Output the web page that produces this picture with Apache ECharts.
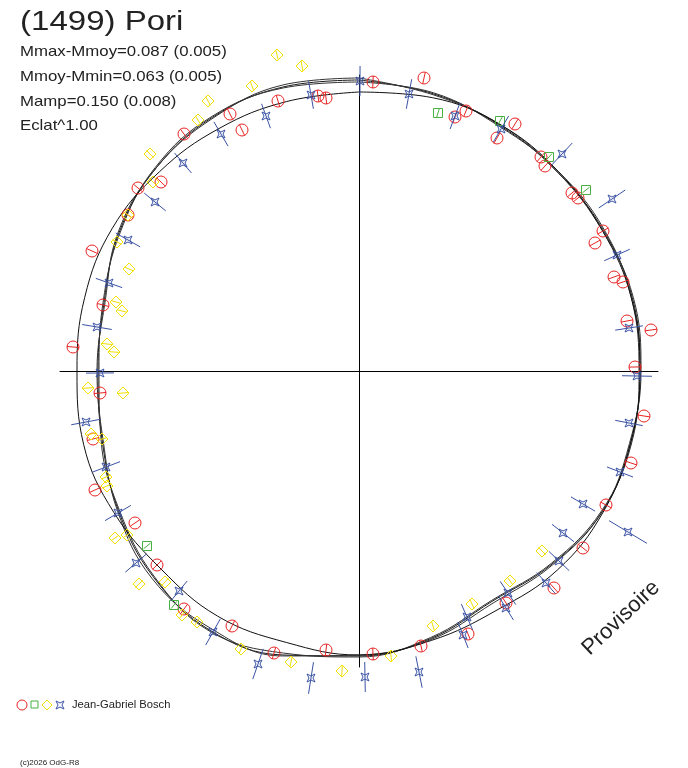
<!DOCTYPE html>
<html>
<head>
<meta charset="utf-8">
<script src="https://cdn.jsdelivr.net/npm/echarts@6/dist/echarts.min.js"></script>
<style>
  html, body { margin: 0; padding: 0; background: #fff; }
  #chart { width: 688px; height: 768px; }
</style>
</head>
<body>
<div id="chart"></div>
<script>
// polar light-curve plot, values in plot units (centre = 0,0)
const angles = [0, 15, 30, 45, 60, 75, 90, 105, 120, 135, 150, 165,
                180, 195, 210, 225, 240, 255, 270, 285, 300, 315, 330, 345];

// fitted curves: radius at each angle (clockwise from top)
const fitA = [291, 287, 283, 281, 282, 283, 281, 281, 281, 273, 266, 277,
              285, 294, 299, 291, 278, 266, 261, 264, 277, 287, 293, 294];
const fitB = [293, 286, 284, 281, 281, 284, 282, 280, 281, 274, 268, 278,
              284, 295, 297, 293, 279, 265, 262, 263, 278, 287, 292, 296];
const fitC = [289, 288, 282, 282, 283, 282, 280, 282, 280, 272, 265, 276,
              286, 292, 300, 290, 277, 267, 260, 265, 276, 288, 294, 293];
const fitAlt = [279, 283, 284, 282, 281, 282, 281, 281, 282, 281, 276, 279,
                284, 281, 283, 280, 283, 285, 282, 284, 285, 282, 280, 279];

// observations [x, y]
const redPts = [
  [14, 289], [65, 293], [107, 260], [96, 254], [156, 247], [138, 233], [182, 214],
  [186, 205], [213, 178], [219, 173], [244, 140], [236, 128], [255, 94], [264, 89],
  [268, 50], [292, 41], [276, 4], [285, -45], [272, -92], [247, -134], [224, -177],
  [195, -217], [147, -232], [109, -263], [62, -275], [14, -283], [-33, -279],
  [-85, -282], [-127, -255], [-175, -238], [-202, -194], [-224, -152], [-264, -119],
  [-266, -68], [-259, -22], [-286, 24], [-256, 66], [-267, 120], [-231, 156],
  [-221, 183], [-198, 189], [-175, 237], [-129, 257], [-117, 241], [-81, 270],
  [-41, 275], [-33, 273]
];
const yellowPts = [
  [-82, 316], [-57, 305], [-107, 285], [-151, 270], [-161, 251], [-209, 217],
  [-206, 189], [-231, 156], [-242, 129], [-230, 102], [-243, 69], [-237, 60],
  [-252, 27], [-245, 19], [-271, -17], [-236, -22], [-268, -63], [-257, -68],
  [-253, -106], [-252, -115], [-244, -167], [-232, -164], [-220, -213], [-194, -211],
  [-177, -244], [-162, -251], [-118, -278], [-68, -291], [-17, -300], [32, -285],
  [74, -255], [113, -233], [151, -210], [183, -180]
];
const greenPts = [
  [79, 258], [141, 250], [190, 214], [227, 181], [-212, -175], [-185, -234]
];
// [x, y, error]
const bluePts = [
  [1, 290, 15], [50, 277, 15], [96, 255, 14], [142, 242, 15], [203, 217, 15],
  [253, 172, 16], [258, 116, 14], [270, 43, 14], [278, -5, 15], [270, -52, 14],
  [261, -101, 14], [224, -133, 14], [269, -161, 22], [204, -162, 14], [200, -190, 14],
  [187, -212, 14], [149, -222, 14], [147, -237, 14], [108, -246, 14], [104, -264, 14],
  [60, -301, 16], [6, -306, 15], [-48, -307, 16], [-101, -293, 16], [-146, -261, 15],
  [-180, -220, 13], [-223, -192, 14], [-241, -142, 15], [-253, -96, 15], [-273, -51, 15],
  [-259, -2, 14], [-262, 44, 15], [-250, 88, 14], [-231, 131, 14], [-204, 169, 14],
  [-176, 208, 13], [-138, 237, 14], [-93, 255, 13], [-48, 276, 14]
];

const statLines = [
  'Mmax-Mmoy=0.087 (0.005)',
  'Mmoy-Mmin=0.063 (0.005)',
  'Mamp=0.150 (0.008)',
  'Eclat^1.00'
];

const RED = '#e82424', YEL = '#f2e000', GRN = '#48b040', BLU = '#3a52a4', INK = '#222';

function curvePoints(radii) {
  const pts = radii.map((r, i) => {
    const a = angles[i] * Math.PI / 180;
    return [r * Math.sin(a), r * Math.cos(a)];
  });
  pts.push(pts[0]);
  return pts;
}

function curveSeries(radii, color) {
  return {
    type: 'line', data: curvePoints(radii), smooth: 0.4, symbol: 'none',
    silent: true, z: 2, lineStyle: { color: color, width: 1 }
  };
}

function tick(p, ux, uy, len, color) {
  return {
    type: 'line',
    shape: { x1: p[0] - ux * len, y1: p[1] - uy * len, x2: p[0] + ux * len, y2: p[1] + uy * len },
    style: { stroke: color, lineWidth: 1 }
  };
}

// four-pointed star, tips on the diagonals
function starPoints(cx, cy, s) {
  const k = s * 0.5;
  return [[cx - s, cy - s], [cx, cy - k], [cx + s, cy - s], [cx + k, cy],
          [cx + s, cy + s], [cx, cy + k], [cx - s, cy + s], [cx - k, cy]];
}

function markerSeries(data, draw) {
  return {
    type: 'custom', coordinateSystem: 'cartesian2d', data: data, silent: true, z: 3,
    renderItem(params, api) {
      const x = api.value(0), y = api.value(1);
      const p = api.coord([x, y]), c = api.coord([0, 0]);
      const dx = p[0] - c[0], dy = p[1] - c[1];
      const L = Math.hypot(dx, dy) || 1;
      return { type: 'group', children: draw(p, dx / L, dy / L, api, x, y) };
    }
  };
}

const chart = echarts.init(document.getElementById('chart'), null, { renderer: 'canvas' });

const graphics = [
  { type: 'text', x: 20, y: 22, scaleX: 1.18,
    style: { text: '(1499) Pori', font: '28px "Liberation Sans", Arial, sans-serif', fill: INK,
             align: 'left', verticalAlign: 'middle', textAlign: 'left', textVerticalAlign: 'middle' } },
  { type: 'text', x: 621, y: 618, rotation: 0.76,
    style: { text: 'Provisoire', font: '22px "Liberation Sans", Arial, sans-serif', fill: INK,
             align: 'center', verticalAlign: 'middle', textAlign: 'center', textVerticalAlign: 'middle' } },
  { type: 'circle', shape: { cx: 22, cy: 705, r: 5 }, style: { fill: 'none', stroke: RED, lineWidth: 1 } },
  { type: 'rect', shape: { x: 31, y: 701, width: 7, height: 7 }, style: { fill: 'none', stroke: GRN, lineWidth: 1 } },
  { type: 'polygon', shape: { points: [[47, 700], [52, 705], [47, 710], [42, 705]] },
    style: { fill: 'none', stroke: YEL, lineWidth: 1 } },
  { type: 'polygon', shape: { points: starPoints(60, 705, 4) }, style: { fill: 'none', stroke: BLU, lineWidth: 1 } },
  { type: 'text', x: 72, y: 705, scaleX: 1.12,
    style: { text: 'Jean-Gabriel Bosch', font: '10px "Liberation Sans", Arial, sans-serif', fill: INK,
             align: 'left', verticalAlign: 'middle', textAlign: 'left', textVerticalAlign: 'middle' } },
  { type: 'text', x: 20, y: 763,
    style: { text: '(c)2026 OdG-R8', font: '8px "Liberation Sans", Arial, sans-serif', fill: INK,
             align: 'left', verticalAlign: 'middle', textAlign: 'left', textVerticalAlign: 'middle' } }
];
statLines.forEach((t, i) => {
  graphics.push({
    type: 'text', x: 20, y: 52 + i * 24.7, scaleX: 1.12,
    style: { text: t, font: '15px "Liberation Sans", Arial, sans-serif', fill: INK,
             align: 'left', verticalAlign: 'middle', textAlign: 'left', textVerticalAlign: 'middle' }
  });
});

const hiddenAxis = {
  type: 'value',
  axisLine: { show: true, onZero: true, lineStyle: { color: '#000', width: 1 } },
  axisTick: { show: false }, axisLabel: { show: false }, splitLine: { show: false }
};

const option = {
  animation: false,
  backgroundColor: '#fff',
  grid: { left: 60, top: 75, width: 598, height: 592 },
  xAxis: Object.assign({ min: -299, max: 299 }, hiddenAxis),
  yAxis: Object.assign({ min: -296, max: 296 }, hiddenAxis),
  graphic: graphics,
  series: [
    curveSeries(fitA, '#1a1a1a'),
    curveSeries(fitB, '#333'),
    curveSeries(fitC, '#333'),
    curveSeries(fitAlt, '#111'),
    markerSeries(redPts, (p, ux, uy) => [
      { type: 'circle', shape: { cx: p[0], cy: p[1], r: 6 }, style: { fill: 'none', stroke: RED, lineWidth: 1 } },
      tick(p, ux, uy, 6, RED)
    ]),
    markerSeries(yellowPts, (p, ux, uy) => [
      { type: 'polygon', shape: { points: [[p[0], p[1] - 6], [p[0] + 6, p[1]], [p[0], p[1] + 6], [p[0] - 6, p[1]]] },
        style: { fill: 'none', stroke: YEL, lineWidth: 1 } },
      tick(p, ux, uy, 5, YEL)
    ]),
    markerSeries(greenPts, (p, ux, uy) => [
      { type: 'rect', shape: { x: p[0] - 4.5, y: p[1] - 4.5, width: 9, height: 9 },
        style: { fill: 'none', stroke: GRN, lineWidth: 1 } },
      tick(p, ux, uy, 4.5, GRN)
    ]),
    markerSeries(bluePts, (p, ux, uy, api, x, y) => {
      const e = api.value(2), r = Math.hypot(x, y);
      const a = api.coord([x * (1 - e / r), y * (1 - e / r)]);
      const b = api.coord([x * (1 + e / r), y * (1 + e / r)]);
      return [
        { type: 'line', shape: { x1: a[0], y1: a[1], x2: b[0], y2: b[1] }, style: { stroke: BLU, lineWidth: 1 } },
        { type: 'polygon', shape: { points: starPoints(p[0], p[1], 4) },
          style: { fill: 'none', stroke: BLU, lineWidth: 1 } }
      ];
    })
  ]
};

chart.setOption(option);
</script>
</body>
</html>
